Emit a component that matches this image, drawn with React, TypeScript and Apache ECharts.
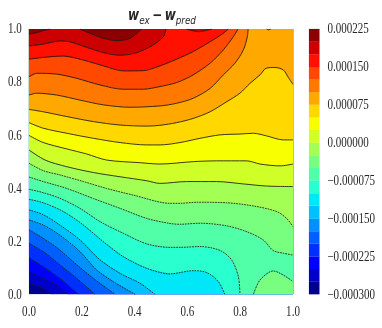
import React, { useEffect, useRef } from "react";
import * as echarts from "echarts";

type Pt = [number, number];

const axisTicks = [0, 0.2, 0.4, 0.6, 0.8, 1];
const barMin = -0.0003;
const barMax = 0.000225;
const barStep = 0.000075;
const bandStep = 0.000025;

// Band colours, from the lowest band up.
const bandColors = [
  "#000090", "#0000c8", "#0000ff", "#0030ff", "#0060ff", "#0090ff", "#00c0ff",
  "#00e8f8", "#2affd0", "#50ffa8", "#78ff80", "#a4ff54", "#d0ff28", "#f8ff00",
  "#ffd800", "#ffa800", "#ff7800", "#ff4800", "#ff1000", "#cc0000", "#8c0000",
];

// Contours, [x, y].
const c0200a: Pt[] = [[0, 0.981], [0.023, 0.985], [0.054, 0.994], [0.08, 1]];
const c0200b: Pt[] = [[0.193, 1], [0.231, 0.984], [0.282, 0.965], [0.332, 0.956], [0.383, 0.965], [0.427, 1]];
const c0175a: Pt[] = [[0, 0.936], [0.054, 0.943], [0.117, 0.955], [0.155, 0.952], [0.218, 0.931], [0.282, 0.911], [0.345, 0.901], [0.408, 0.911], [0.471, 0.94], [0.509, 0.971], [0.519, 1]];
const c0175b: Pt[] = [[0.597, 1], [0.642, 0.99], [0.692, 1]];
const c0150: Pt[] = [[0, 0.886], [0.054, 0.893], [0.13, 0.898], [0.206, 0.883], [0.282, 0.861], [0.357, 0.842], [0.433, 0.843], [0.496, 0.861], [0.559, 0.886], [0.622, 0.915], [0.686, 0.952], [0.736, 0.984], [0.755, 1]];
const c0125: Pt[] = [[0, 0.82], [0.029, 0.833], [0.105, 0.83], [0.181, 0.814], [0.269, 0.789], [0.357, 0.773], [0.433, 0.773], [0.496, 0.783], [0.559, 0.798], [0.622, 0.827], [0.686, 0.871], [0.736, 0.921], [0.774, 0.971], [0.792, 1]];
const c0100a: Pt[] = [[0, 0.751], [0.029, 0.758], [0.105, 0.751], [0.193, 0.732], [0.282, 0.714], [0.383, 0.705], [0.496, 0.71], [0.559, 0.72], [0.622, 0.739], [0.686, 0.776], [0.736, 0.827], [0.78, 0.871], [0.812, 0.921], [0.827, 0.971], [0.83, 1]];
const c0100b: Pt[] = [[0.9, 1], [0.908, 0.997], [0.916, 1]];
const c0075: Pt[] = [[0, 0.697], [0.054, 0.688], [0.143, 0.67], [0.244, 0.651], [0.345, 0.638], [0.446, 0.634], [0.496, 0.637], [0.559, 0.647], [0.622, 0.663], [0.686, 0.688], [0.749, 0.726], [0.799, 0.758], [0.837, 0.795], [0.875, 0.827], [0.898, 0.852], [0.932, 0.855], [0.964, 0.845], [0.982, 0.818], [1, 0.791]];
const c0050: Pt[] = [[0, 0.647], [0.054, 0.626], [0.143, 0.607], [0.244, 0.588], [0.345, 0.572], [0.446, 0.563], [0.496, 0.563], [0.572, 0.572], [0.648, 0.588], [0.724, 0.601], [0.799, 0.604], [0.85, 0.607], [0.9, 0.597], [0.963, 0.582], [1, 0.582]];
const c0025: Pt[] = [[0, 0.599], [0.054, 0.572], [0.143, 0.548], [0.218, 0.529], [0.294, 0.506], [0.421, 0.496], [0.496, 0.491], [0.622, 0.5], [0.711, 0.503], [0.825, 0.503], [0.875, 0.491], [0.951, 0.484], [1, 0.491]];
const c0000: Pt[] = [[0, 0.544], [0.061, 0.506], [0.143, 0.481], [0.244, 0.459], [0.345, 0.443], [0.446, 0.428], [0.496, 0.418], [0.597, 0.425], [0.711, 0.425], [0.812, 0.416], [0.9, 0.408], [1, 0.406]];
const n0025: Pt[] = [[0, 0.494], [0.054, 0.466], [0.117, 0.45], [0.206, 0.425], [0.294, 0.399], [0.395, 0.374], [0.534, 0.343], [0.572, 0.343], [0.635, 0.347], [0.749, 0.345], [0.85, 0.333], [0.938, 0.312], [0.976, 0.286], [1, 0.255]];
const n0050a: Pt[] = [[0, 0.442], [0.054, 0.425], [0.143, 0.399], [0.244, 0.361], [0.345, 0.324], [0.446, 0.286], [0.534, 0.267], [0.572, 0.264], [0.648, 0.268], [0.749, 0.258], [0.825, 0.236], [0.887, 0.205], [0.925, 0.165], [0.963, 0.155], [1, 0.148]];
const n0050b: Pt[] = [[0.85, 0], [0.875, 0.054], [0.925, 0.088], [1, 0.048]];
const n0075: Pt[] = [[0, 0.396], [0.054, 0.383], [0.117, 0.362], [0.193, 0.324], [0.269, 0.274], [0.357, 0.23], [0.446, 0.19], [0.534, 0.177], [0.572, 0.177], [0.648, 0.18], [0.724, 0.165], [0.768, 0.129], [0.793, 0.067], [0.799, 0]];
const n0100: Pt[] = [[0, 0.358], [0.054, 0.345], [0.13, 0.312], [0.206, 0.261], [0.282, 0.198], [0.357, 0.142], [0.446, 0.098], [0.534, 0.077], [0.622, 0.089], [0.673, 0.082], [0.717, 0.048], [0.742, 0]];
const n0125: Pt[] = [[0, 0.318], [0.054, 0.3], [0.117, 0.261], [0.193, 0.205], [0.269, 0.13], [0.345, 0.079], [0.42, 0.042], [0.477, 0]];
const n0150: Pt[] = [[0, 0.28], [0.054, 0.261], [0.117, 0.223], [0.193, 0.161], [0.256, 0.092], [0.319, 0.048], [0.402, 0]];
const n0175: Pt[] = [[0, 0.243], [0.054, 0.211], [0.117, 0.167], [0.181, 0.111], [0.244, 0.06], [0.326, 0]];
const n0200: Pt[] = [[0, 0.192], [0.054, 0.161], [0.117, 0.111], [0.181, 0.06], [0.25, 0]];
const n0225: Pt[] = [[0, 0.138], [0.054, 0.104], [0.117, 0.06], [0.187, 0]];
const n0250: Pt[] = [[0, 0.085], [0.054, 0.06], [0.105, 0.035], [0.149, 0]];
const n0275: Pt[] = [[0, 0.039], [0.054, 0.023], [0.088, 0]];

// Corners that close the region above a contour along the square's edge.
const upFromBottom: Pt[] = [[1, 0], [1, 1], [0, 1]];
const upFromRight: Pt[] = [[1, 1], [0, 1]];
const upFromTop: Pt[] = [[0, 1]];
const wholeSquare: Pt[] = [[0, 0], [1, 0], [1, 1], [0, 1]];

// [band painted above the contour, contour, closing corners], lowest first.
const contourTable: [number, Pt[], Pt[]][] = [
  [1, n0275, upFromBottom], [2, n0250, upFromBottom], [3, n0225, upFromBottom],
  [4, n0200, upFromBottom], [5, n0175, upFromBottom], [6, n0150, upFromBottom],
  [7, n0125, upFromBottom], [8, n0100, upFromBottom], [9, n0075, upFromBottom],
  [10, n0050a, upFromRight], [10, n0050b, [[1, 0]]],
  [11, n0025, upFromRight], [12, c0000, upFromRight], [13, c0025, upFromRight],
  [14, c0050, upFromRight], [15, c0075, upFromRight], [16, c0100a, upFromTop],
  [16, c0100b, []], [17, c0125, upFromTop], [18, c0150, upFromTop],
  [19, c0175a, upFromTop], [19, c0175b, []], [20, c0200a, upFromTop], [20, c0200b, []],
];

const serifFont = "Liberation Serif";
const squeeze = 0.8; // the reference's text is narrower than it is tall
const px = (v: number) => v / squeeze;

export default function App() {
  const ref = useRef<HTMLDivElement>(null);
  useEffect(() => {
    const chart = echarts.init(ref.current!, null, { renderer: "svg" });
    const polygons = [{ band: 0, pts: wholeSquare }].concat(
      contourTable.map(([band, line, corners]) => ({ band, pts: [...line, ...corners] }))
    );
    const barBands = bandColors.map((_, i) => [barMin + i * bandStep, barMin + (i + 1) * bandStep, i]);
    const labelColor = "#262626";
    chart.setOption({
      animation: false,
      title: {
        text: "{w|w}{s|ex}{m|−}{w|w}{s|pred}",
        left: px(158),
        top: -3,
        textAlign: "center",
        textStyle: {
          rich: {
            w: { fontFamily: "DejaVu Sans", fontStyle: "italic", fontWeight: "bold", fontSize: 15, lineHeight: 24, color: labelColor, verticalAlign: "middle" },
            m: { fontFamily: "DejaVu Sans", fontWeight: "bold", fontSize: 15, lineHeight: 24, color: labelColor, verticalAlign: "middle", padding: [0, 3, 0, 3] },
            s: { fontFamily: "DejaVu Sans", fontStyle: "italic", fontWeight: "normal", fontSize: 11, lineHeight: 24, color: labelColor, verticalAlign: "bottom" },
          },
        },
      },
      grid: [
        { left: px(29), top: 29, width: px(264), height: 265.3 },
        { left: px(309), top: 29, width: px(10.4), height: 265.3 },
      ],
      xAxis: [
        {
          type: "value", gridIndex: 0, min: 0, max: 1, interval: 0.2,
          axisLine: { show: false }, axisTick: { show: false }, splitLine: { show: false },
          axisLabel: { fontFamily: serifFont, fontSize: 13.8, color: labelColor, margin: 10, formatter: (v: number) => v.toFixed(1), customValues: axisTicks },
        },
        { type: "value", gridIndex: 1, min: 0, max: 1, show: false },
      ],
      yAxis: [
        {
          type: "value", gridIndex: 0, min: 0, max: 1, interval: 0.2,
          axisLine: { show: false }, axisTick: { show: false }, splitLine: { show: false },
          axisLabel: { fontFamily: serifFont, fontSize: 13.8, color: labelColor, margin: 9, formatter: (v: number) => v.toFixed(1), customValues: axisTicks },
        },
        {
          type: "value", gridIndex: 1, min: barMin, max: barMax, interval: barStep, position: "right",
          axisLine: { show: false }, axisTick: { show: false }, splitLine: { show: false },
          axisLabel: { fontFamily: serifFont, fontSize: 13.8, color: labelColor, margin: 10, formatter: (v: number) => (v < -1e-9 ? "−" : "") + Math.abs(v).toFixed(6) },
        },
      ],
      series: [
        {
          type: "custom", xAxisIndex: 0, yAxisIndex: 0, clip: true, silent: true,
          data: polygons.map((_, i) => [i]),
          encode: { x: [], y: [] },
          renderItem: (p: any, api: any) => {
            const poly = polygons[p.dataIndex];
            return { type: "polygon", shape: { points: poly.pts.map((q) => api.coord(q)) }, style: { fill: bandColors[poly.band], stroke: bandColors[poly.band], lineWidth: 0.3 } };
          },
        },
        ...contourTable.map(([band, line]) => ({
          type: "line", xAxisIndex: 0, yAxisIndex: 0, data: line, smooth: 0.3, symbol: "none", silent: true, z: 3,
          lineStyle: { color: "#1a1a1a", width: 0.95, type: band <= 11 ? ([2.2, 1.1] as any) : "solid" },
        })),
        {
          type: "custom", xAxisIndex: 1, yAxisIndex: 1, silent: true,
          data: barBands,
          encode: { y: [0, 1] },
          renderItem: (_: any, api: any) => {
            const a = api.coord([0, api.value(0)]);
            const b = api.coord([1, api.value(1)]);
            return { type: "rect", shape: { x: a[0], y: b[1], width: b[0] - a[0], height: a[1] - b[1] }, style: { fill: bandColors[api.value(2)], stroke: bandColors[api.value(2)], lineWidth: 0.2 } };
          },
        },
      ],
    });
    return () => chart.dispose();
  }, []);
  return (
    <div
      ref={ref}
      style={{ position: "absolute", left: 0, top: 0, width: px(382), height: 328, transform: `scaleX(${squeeze})`, transformOrigin: "0 0", filter: "blur(0.35px)" }}
    />
  );
}
